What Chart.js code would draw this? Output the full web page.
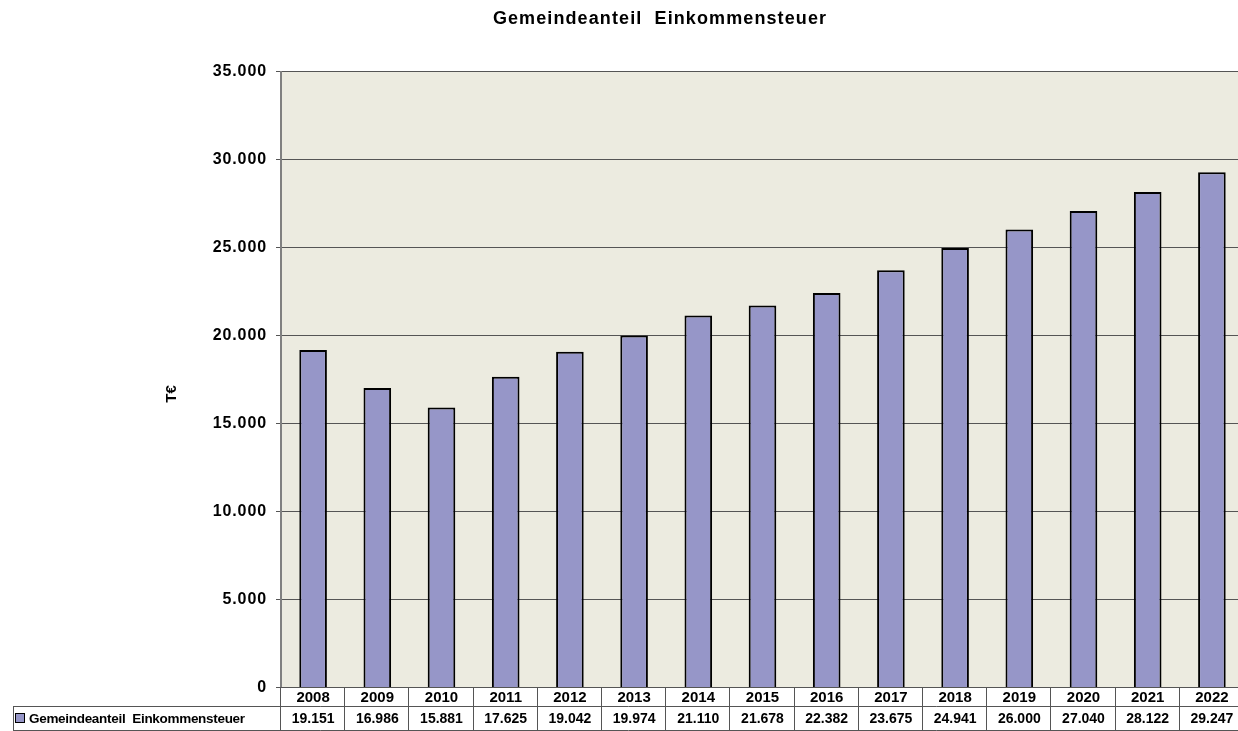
<!DOCTYPE html>
<html>
<head>
<meta charset="utf-8">
<script src="https://cdn.jsdelivr.net/npm/chart.js@4"></script>
<style>
html,body{margin:0;padding:0;background:#fff;overflow:hidden;}
#wrap{width:1238px;height:731px;position:relative;overflow:hidden;}
</style>
</head>
<body>
<div id="wrap"><canvas id="c" width="1246" height="731"></canvas></div>
<script>
const title = "Gemeindeanteil  Einkommensteuer";
const seriesName = "Gemeindeanteil  Einkommensteuer";
const yAxisTitle = "T€";
const years = ["2008","2009","2010","2011","2012","2013","2014","2015","2016","2017","2018","2019","2020","2021","2022"];
const values = [19151,16986,15881,17625,19042,19974,21110,21678,22382,23675,24941,26000,27040,28122,29247];
const yTicks = [0,5000,10000,15000,20000,25000,30000,35000];

const FONT = "'Liberation Sans', Arial, sans-serif";
const BAR = "#9696C8";

function fmt(v){
  const s = String(Math.round(v));
  return s.replace(/\B(?=(\d{3})+(?!\d))/g, ".");
}

const decor = {
  id:'decor',
  beforeDatasetsDraw(chart){
    const {ctx, chartArea:a} = chart;
    ctx.save();
    ctx.fillStyle = "#ECEBE0";
    ctx.fillRect(a.left, a.top, a.right-a.left, a.bottom-a.top);
    const ys = chart.scales.y;
    ctx.strokeStyle = "#555";
    ctx.lineWidth = 1;
    ctx.fillStyle = "#000";
    ctx.font = "bold 16px " + FONT;
    ctx.textAlign = "right";
    ctx.textBaseline = "middle";
    ctx.letterSpacing = "0.9px";
    yTicks.forEach(t=>{
      const yp = ys.getPixelForValue(t);
      const y = Math.round(yp)+0.5;
      ctx.beginPath();ctx.moveTo(a.left-5,y);ctx.lineTo(a.right,y);ctx.stroke();
      ctx.fillText(fmt(t), 267, yp+1);
    });
    ctx.letterSpacing = "0px";
    ctx.strokeStyle = "#808080";
    ctx.lineWidth = 2;
    ctx.beginPath();ctx.moveTo(a.left,a.top);ctx.lineTo(a.left,a.bottom);ctx.stroke();
    ctx.restore();
  },
  afterDraw(chart){
    const {ctx, chartArea:a} = chart;
    const xs = chart.scales.x;
    ctx.save();
    ctx.fillStyle = "#000";
    ctx.textAlign = "center";
    ctx.textBaseline = "middle";
    ctx.font = "bold 18px " + FONT;
    ctx.letterSpacing = "1.1px";
    ctx.fillText(title, 660, 19);
    ctx.letterSpacing = "0px";
    ctx.save();
    ctx.translate(172, 394);
    ctx.rotate(-Math.PI/2);
    ctx.font = "bold 15px " + FONT;
    ctx.fillText(yAxisTitle, 0, 0);
    ctx.restore();
    // data table
    const w = (a.right - a.left)/years.length;
    const yTop = a.bottom, yMid = 706, yBot = 730;
    const legLeft = 13;
    ctx.strokeStyle = "#555";
    ctx.lineWidth = 1;
    ctx.beginPath();
    ctx.moveTo(a.left, yTop+0.5); ctx.lineTo(a.right, yTop+0.5);
    ctx.moveTo(legLeft, yMid+0.5); ctx.lineTo(a.right, yMid+0.5);
    ctx.moveTo(legLeft, yBot+0.5); ctx.lineTo(a.right, yBot+0.5);
    ctx.moveTo(legLeft+0.5, yMid); ctx.lineTo(legLeft+0.5, yBot);
    for(let i=0;i<=years.length;i++){
      const x = Math.round(a.left + i*w) - 0.5;
      ctx.moveTo(x, yTop); ctx.lineTo(x, yBot);
    }
    ctx.stroke();
    ctx.fillStyle = "#000";
    years.forEach((yr,i)=>{
      const cx = xs.getPixelForValue(i);
      ctx.font = "bold 15px " + FONT;
      ctx.fillText(yr, cx, (yTop+yMid)/2+1);
      ctx.font = "bold 14px " + FONT;
      ctx.fillText(fmt(values[i]), cx, (yMid+yBot)/2+1);
    });
    ctx.fillStyle = BAR;
    ctx.fillRect(15.5, 713.5, 9, 9);
    ctx.strokeStyle = "#000";
    ctx.strokeRect(15.5, 713.5, 9, 9);
    ctx.fillStyle = "#000";
    ctx.textAlign = "left";
    ctx.font = "bold 13.5px " + FONT;
    ctx.letterSpacing = "-0.3px";
    ctx.fillText(seriesName, 29, (yMid+yBot)/2+1);
    ctx.restore();
  }
};

new Chart(document.getElementById('c'), {
  type:'bar',
  data:{
    labels: years,
    datasets:[{
      label: seriesName,
      data: values,
      backgroundColor: BAR,
      borderColor: "#000",
      borderWidth: 2,
      borderSkipped: 'bottom',
      barPercentage: 0.43,
      categoryPercentage: 1.0
    }]
  },
  options:{
    responsive:false,
    animation:false,
    layout:{padding:{top:71,left:0,right:2,bottom:44}},
    plugins:{legend:{display:false}, tooltip:{enabled:false}, title:{display:false}},
    scales:{
      x:{display:false, offset:true},
      y:{
        min:0, max:35000,
        afterFit(s){ s.width = 281; },
        afterBuildTicks(s){ s.ticks = yTicks.map(v=>({value:v})); },
        grid:{display:false, drawTicks:false},
        border:{display:false},
        ticks:{display:false, font:{family:FONT, size:15, weight:'bold'}}
      }
    }
  },
  plugins:[decor]
});
</script>
</body>
</html>
